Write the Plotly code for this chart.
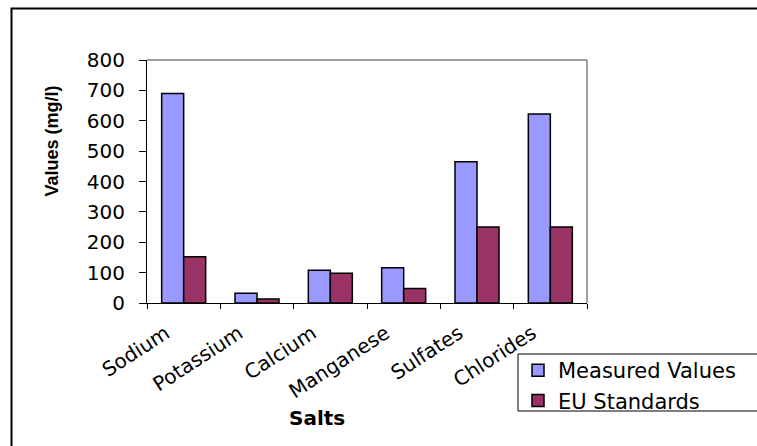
import plotly.graph_objects as go

categories = ["Sodium", "Potassium", "Calcium", "Manganese", "Sulfates", "Chlorides"]
measured_values = [690, 32, 108, 116, 465, 622]
eu_standards = [152, 13, 98, 48, 250, 250]
y_ticks = [0, 100, 200, 300, 400, 500, 600, 700, 800]

W, H = 757, 446
L, R, T, B = 147, 587, 60, 303

def px(x):
    return (x - L) / (R - L)

def py(y):
    return (B - y) / (B - T)

fig = go.Figure()
fig.add_trace(go.Bar(
    x=categories, y=measured_values, name="Measured Values",
    marker=dict(color="#9999FF", line=dict(color="black", width=1.5)),
))
fig.add_trace(go.Bar(
    x=categories, y=eu_standards, name="EU Standards",
    marker=dict(color="#993366", line=dict(color="black", width=1.5)),
))

fig.update_layout(
    width=W, height=H,
    margin=dict(l=L, r=W - R, t=T, b=H - B, autoexpand=False),
    paper_bgcolor="white", plot_bgcolor="white",
    barmode="group", bargap=0.4, bargroupgap=0,
    font=dict(family="DejaVu Sans", color="black"),
    legend=dict(
        x=px(518), y=py(350), xanchor="left", yanchor="top",
        borderwidth=0, bgcolor="rgba(0,0,0,0)",
        font=dict(family="DejaVu Sans", size=21, color="black"),
        tracegroupgap=0,
    ),
    xaxis=dict(
        type="category", tickson="boundaries", ticks="outside", ticklen=5,
        tickcolor="black", showline=True, linecolor="black", linewidth=1,
        showgrid=False, tickangle=-33, automargin=False,
        tickfont=dict(family="DejaVu Sans", size=20, color="black"),
        ticklabelshift=-18, ticklabelstandoff=10,
    ),
    yaxis=dict(
        range=[0, 800], tickvals=y_ticks, ticks="outside", ticklen=7,
        tickcolor="black", showline=True, linecolor="black", linewidth=1,
        showgrid=False, zeroline=False, automargin=False,
        tickfont=dict(family="DejaVu Sans", size=20, color="black"),
        ticklabelstandoff=10,
    ),
    showlegend=True,
)

# plot-area top/right gray border
fig.add_shape(type="line", xref="paper", yref="paper", x0=0, x1=1, y0=1, y1=1,
              line=dict(color="#808080", width=1.5))
fig.add_shape(type="line", xref="paper", yref="paper", x0=1, x1=1, y0=0, y1=1,
              line=dict(color="#808080", width=1.5))
# outer chart frame
fig.add_shape(type="rect", xref="paper", yref="paper",
              x0=px(11.5), x1=px(775), y0=py(8.5), y1=py(470),
              line=dict(color="black", width=2), layer="below")
# legend frame (extends past the right edge, as in the original)
fig.add_shape(type="rect", xref="paper", yref="paper",
              x0=px(518), x1=px(775), y0=py(354), y1=py(411),
              line=dict(color="black", width=1), fillcolor="white", layer="below")

fig.add_annotation(text="<b>Values (mg/l)</b>", xref="paper", yref="paper",
                   x=px(51), y=py(141.5), showarrow=False, textangle=-90,
                   xanchor="center", yanchor="middle",
                   font=dict(family="Liberation Sans", size=18, color="black"))
fig.add_annotation(text="<b>Salts</b>", xref="paper", yref="paper",
                   x=px(317), y=py(418), showarrow=False,
                   xanchor="center", yanchor="middle",
                   font=dict(family="DejaVu Sans", size=20, color="black"))

fig.write_html("out.html")
